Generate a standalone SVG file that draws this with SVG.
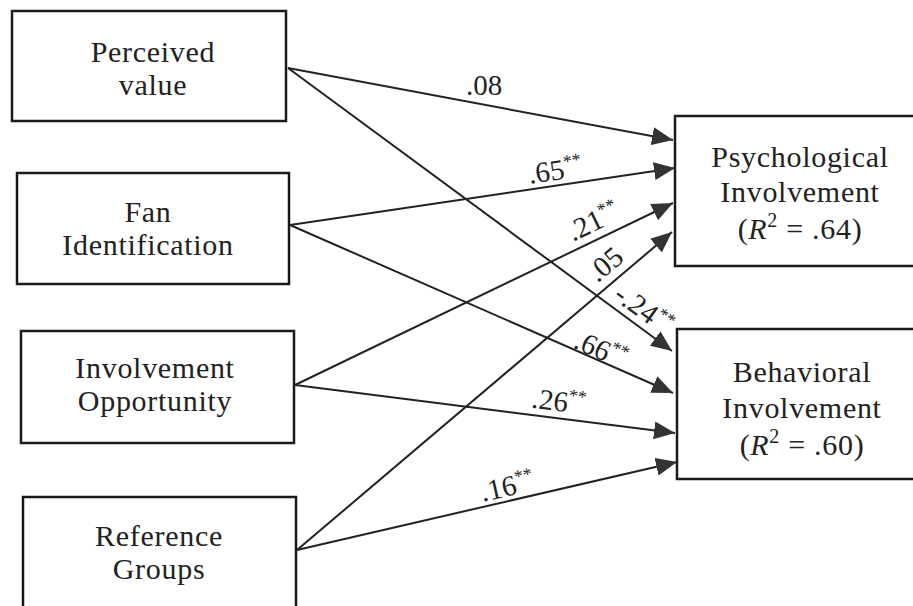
<svg xmlns="http://www.w3.org/2000/svg" width="913" height="606" viewBox="0 0 913 606">
  <defs>
    <marker id="arrow" markerUnits="userSpaceOnUse" markerWidth="22" markerHeight="18" refX="21" refY="9" orient="auto">
      <path d="M0,0 L21,9 L0,18 z" fill="#333"/>
    </marker>
    <style>
      .box { fill: #fff; stroke: #1a1a1a; stroke-width: 2.5; }
      .name { font-family: "Liberation Serif", "Times New Roman", serif; font-size: 30px; letter-spacing: 0.7px; fill: #222; text-anchor: middle; }
      .edge { fill: none; stroke: #222; stroke-width: 2; marker-end: url(#arrow); }
      .coef { font-family: "Liberation Serif", "Times New Roman", serif; font-size: 29px; fill: #222; text-anchor: middle; }
      .sig { font-size: 18px; }
    </style>
  </defs>
  <rect width="913" height="606" fill="#fff"/>

  <!-- predictors -->
  <g id="perceived-value">
    <rect class="box" x="12" y="11" width="274" height="110"/>
    <text class="name" x="153" y="62">Perceived</text>
    <text class="name" x="153" y="95">value</text>
  </g>
  <g id="fan-identification">
    <rect class="box" x="17" y="173" width="272" height="111"/>
    <text class="name" x="148" y="222">Fan</text>
    <text class="name" x="148" y="255">Identification</text>
  </g>
  <g id="involvement-opportunity">
    <rect class="box" x="21" y="331" width="273" height="112"/>
    <text class="name" x="155" y="378">Involvement</text>
    <text class="name" x="155" y="411">Opportunity</text>
  </g>
  <g id="reference-groups">
    <rect class="box" x="23" y="497" width="273" height="125"/>
    <text class="name" x="159" y="546">Reference</text>
    <text class="name" x="159" y="579">Groups</text>
  </g>

  <!-- outcomes -->
  <g id="psychological-involvement">
    <rect class="box" x="675" y="116" width="260" height="150"/>
    <text class="name" x="800" y="167">Psychological</text>
    <text class="name" x="800" y="202">Involvement</text>
    <text class="name" x="800" y="239">(<tspan font-style="italic">R</tspan><tspan font-size="20" dy="-12">2</tspan><tspan dy="12"> = .64)</tspan></text>
  </g>
  <g id="behavioral-involvement">
    <rect class="box" x="677" y="329" width="260" height="150"/>
    <text class="name" x="802" y="382">Behavioral</text>
    <text class="name" x="802" y="418">Involvement</text>
    <text class="name" x="802" y="455">(<tspan font-style="italic">R</tspan><tspan font-size="20" dy="-12">2</tspan><tspan dy="12"> = .60)</tspan></text>
  </g>

  <!-- paths -->
  <g id="connectors">
    <path class="edge" d="M288,68 L673,140"/>
    <path class="edge" d="M288,68 L672,351"/>
    <path class="edge" d="M290,225 L675,168"/>
    <path class="edge" d="M290,225 L673,393"/>
    <path class="edge" d="M295,385 L673,203"/>
    <path class="edge" d="M295,385 L675,433"/>
    <path class="edge" d="M297,550 L672,232"/>
    <path class="edge" d="M297,550 L677,462"/>
  </g>

  <!-- path coefficients -->
  <g id="coefficients">
    <text class="coef" transform="translate(484,85)" y="10">.08</text>
    <text class="coef" transform="translate(555,170) rotate(-8.4)" y="10">.65<tspan class="sig" dy="-11">**</tspan></text>
    <text class="coef" transform="translate(593,221) rotate(-25.7)" y="10">.21<tspan class="sig" dy="-11">**</tspan></text>
    <text class="coef" transform="translate(605,264) rotate(-40)" y="10">.05</text>
    <text class="coef" transform="translate(644,309) rotate(36)" y="10">-.24<tspan class="sig" dy="-11">**</tspan></text>
    <text class="coef" transform="translate(601,349) rotate(23.7)" y="10">.66<tspan class="sig" dy="-11">**</tspan></text>
    <text class="coef" transform="translate(559,401) rotate(7)" y="10">.26<tspan class="sig" dy="-11">**</tspan></text>
    <text class="coef" transform="translate(507,486) rotate(-13)" y="10">.16<tspan class="sig" dy="-11">**</tspan></text>
  </g>
</svg>
